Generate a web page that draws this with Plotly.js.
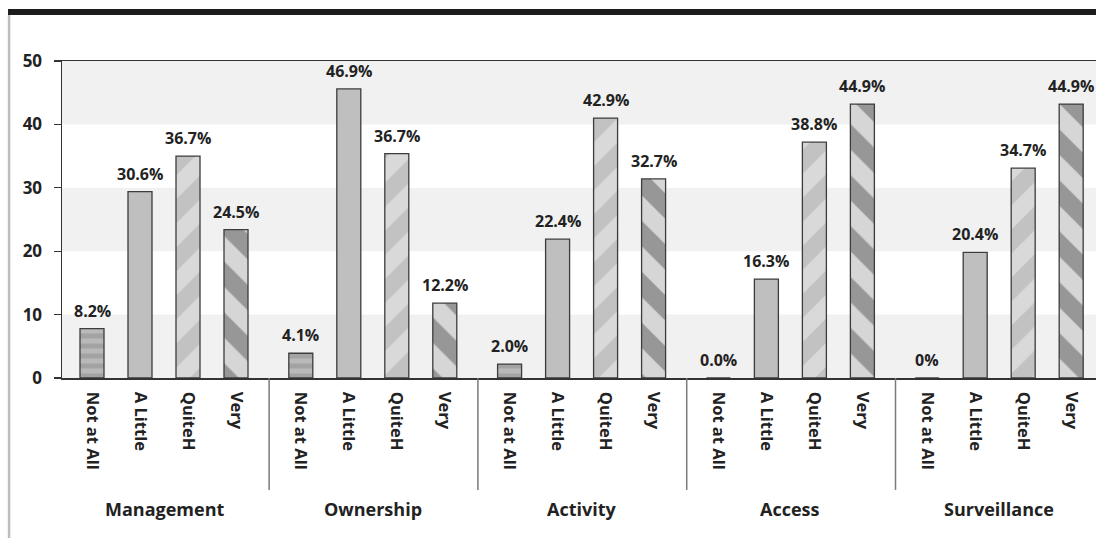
<!DOCTYPE html>
<html>
<head>
<meta charset="utf-8">
<script src="https://cdn.plot.ly/plotly-3.0.1.min.js"></script>
<style>
  html, body { margin: 0; padding: 0; background: #fff; overflow: hidden; }
  #chart { width: 1096px; height: 538px; }
</style>
</head>
<body>
<div id="chart"></div>
<script>
// ---- data ----
const groups = ['Management', 'Ownership', 'Activity', 'Access', 'Surveillance'];
const levels = ['Not at All', 'A Little', 'QuiteH', 'Very'];

// bar heights as drawn
const notAtAll = [7.8, 3.9, 2.2, 0, 0];
const aLittle  = [29.4, 45.6, 21.9, 15.6, 19.8];
const quiteH   = [35.0, 35.4, 41.0, 37.2, 33.1];
const very     = [23.4, 11.8, 31.4, 43.2, 43.2];

// printed value labels
const notAtAllLabels = ['8.2%', '4.1%', '2.0%', '0.0%', '0%'];
const aLittleLabels  = ['30.6%', '46.9%', '22.4%', '16.3%', '20.4%'];
const quiteHLabels   = ['36.7%', '36.7%', '42.9%', '38.8%', '34.7%'];
const veryLabels     = ['24.5%', '12.2%', '32.7%', '44.9%', '44.9%'];

const yTicks = [0, 10, 20, 30, 40, 50];

// ---- layout helpers ----
const GAP = 4.35;           // slots per group
const series = [notAtAll, aLittle, quiteH, very];
const seriesLabels = [notAtAllLabels, aLittleLabels, quiteHLabels, veryLabels];
const xPos = (g, j) => g * GAP + j;

const patterns = [
  {shape: '-', bgcolor: '#b9b9b9', fgcolor: '#a3a3a3', size: 10, solidity: 0.5},
  null,
  {shape: '/', bgcolor: '#c2c2c2', fgcolor: '#d9d9d9', size: 34, solidity: 0.5},
  {shape: '\\', bgcolor: '#d6d6d6', fgcolor: '#979797', size: 36, solidity: 0.5}
];
const solidColor = '#bfbfbf';

const traces = series.map((vals, j) => {
  const marker = {
    color: solidColor,
    line: {color: '#3c3c3c', width: 1.3}
  };
  if (patterns[j]) {
    marker.color = patterns[j].bgcolor;
    marker.pattern = Object.assign({fillmode: 'replace', fgopacity: 1}, patterns[j]);
  }
  return {
    type: 'bar',
    name: levels[j],
    x: groups.map((_, g) => xPos(g, j)),
    y: vals,
    width: 0.5,
    marker: marker,
    hoverinfo: 'skip'
  };
});

const tickvals = [], ticktext = [];
groups.forEach((_, g) => levels.forEach((lv, j) => { tickvals.push(xPos(g, j)); ticktext.push(lv); }));

const FONT = 'Open Sans, Noto Sans, DejaVu Sans, sans-serif';
const annotations = [];
series.forEach((vals, j) => vals.forEach((v, g) => {
  annotations.push({
    x: xPos(g, j), y: v, xref: 'x', yref: 'y',
    text: seriesLabels[j][g], showarrow: false,
    yanchor: 'bottom', yshift: 5,
    font: {family: FONT, size: 16, weight: 700, color: '#222'}
  });
}));
groups.forEach((name, g) => {
  annotations.push({
    x: xPos(g, 1.5), y: -0.413, xref: 'x', yref: 'paper',
    text: name, showarrow: false, yanchor: 'middle',
    font: {family: FONT, size: 18, weight: 700, color: '#222'}
  });
});

const shapes = [];
[[0, 10], [20, 30], [40, 50]].forEach(b => shapes.push({
  type: 'rect', xref: 'paper', yref: 'y', x0: 0, x1: 1, y0: b[0], y1: b[1],
  fillcolor: '#f1f1f1', line: {width: 0}, layer: 'below'
}));
for (let g = 1; g < groups.length; g++) {
  shapes.push({
    type: 'line', xref: 'x', yref: 'paper',
    x0: g * GAP - 0.66, x1: g * GAP - 0.66, y0: 0, y1: -0.353,
    line: {color: '#7a7a7a', width: 1.5}
  });
}
// page frame: thick top rule and grey left rule
shapes.push({type: 'rect', xref: 'paper', yref: 'paper', x0: -0.0522, x1: 1.01, y0: 1.145, y1: 1.164,
  fillcolor: '#1c1c1c', line: {width: 0}});
shapes.push({type: 'line', xref: 'paper', yref: 'paper', x0: -0.0512, x1: -0.0512, y0: 1.145, y1: -0.52,
  line: {color: '#bdbdbd', width: 2.5}});

const layout = {
  width: 1096, height: 538,
  margin: {l: 62, r: 0, t: 61, b: 160},
  paper_bgcolor: '#fff', plot_bgcolor: 'rgba(0,0,0,0)',
  barmode: 'overlay',
  showlegend: false,
  xaxis: {
    range: [-0.625, 20.917],
    tickvals: tickvals, ticktext: ticktext,
    tickangle: 90, ticks: '',
    ticklabelstandoff: 9,
    showline: true, linecolor: '#333', linewidth: 1.5, mirror: true,
    showgrid: false, zeroline: false,
    tickfont: {family: FONT, size: 16.5, weight: 700, color: '#222'}
  },
  yaxis: {
    range: [0, 50],
    tickvals: yTicks,
    ticks: 'outside', ticklen: 7, tickcolor: '#333', tickwidth: 1.2,
    ticklabelstandoff: 8,
    showline: true, linecolor: '#333', linewidth: 1.5,
    showgrid: false, zeroline: false,
    tickfont: {family: FONT, size: 17, weight: 700, color: '#222'}
  },
  shapes: shapes,
  annotations: annotations
};

Plotly.newPlot('chart', traces, layout, {displayModeBar: false, staticPlot: true});
</script>
</body>
</html>
